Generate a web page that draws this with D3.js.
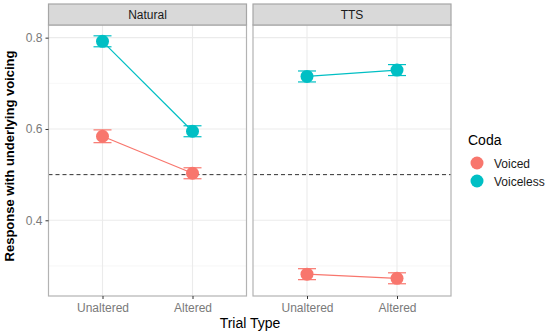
<!DOCTYPE html>
<html><head><meta charset="utf-8">
<script src="https://cdn.jsdelivr.net/npm/d3@7"></script>
<style>body{margin:0;background:#fff;} svg{display:block;font-family:Arial,"Liberation Sans",sans-serif;}</style>
</head><body>
<script>
const facets = ["Natural", "TTS"];
const trialTypes = ["Unaltered", "Altered"];
const codas = ["Voiced", "Voiceless"];
const colors = ["#F8766D", "#00BFC4"];
// mean values [facet][coda][trial]
const naturalVoiced = [0.584, 0.503];
const naturalVoiceless = [0.792, 0.595];
const ttsVoiced = [0.282, 0.273];
const ttsVoiceless = [0.715, 0.729];
// standard errors
const naturalVoicedSE = [0.014, 0.012];
const naturalVoicelessSE = [0.012, 0.012];
const ttsVoicedSE = [0.012, 0.012];
const ttsVoicelessSE = [0.012, 0.012];
const yTicks = [0.4, 0.6, 0.8];
const yMinor = [0.3, 0.5, 0.7];
const refLine = 0.5;

const data = [];
[[naturalVoiced, naturalVoicedSE, naturalVoiceless, naturalVoicelessSE],
 [ttsVoiced, ttsVoicedSE, ttsVoiceless, ttsVoicelessSE]].forEach((arr, fi) => {
  [0, 1].forEach(ci => {
    trialTypes.forEach((t, ti) => {
      data.push({facet: facets[fi], coda: codas[ci], trial: t, v: arr[ci*2][ti], se: arr[ci*2+1][ti]});
    });
  });
});

const W = 550, H = 335;
const svg = d3.select("body").append("svg").attr("width", W).attr("height", H);
const panelTop = 25, panelBottom = 296, stripTop = 4;
const panels = [{x0: 48.5, x1: 246.5}, {x0: 253, x1: 451}];
const y = d3.scaleLinear().domain([0.2342, 0.8277]).range([panelBottom, panelTop]);

facets.forEach((f, fi) => {
  const p = panels[fi];
  const x = d3.scalePoint().domain(trialTypes).range([p.x0, p.x1]).padding(0.6);
  const g = svg.append("g");
  // background
  g.append("rect").attr("x", p.x0).attr("y", panelTop).attr("width", p.x1 - p.x0).attr("height", panelBottom - panelTop).attr("fill", "#fff");
  // minor grid
  g.selectAll(".minor").data(yMinor).join("line")
    .attr("x1", p.x0).attr("x2", p.x1).attr("y1", d => y(d)).attr("y2", d => y(d))
    .attr("stroke", "#f2f2f2").attr("stroke-width", 0.6);
  // major grid
  g.selectAll(".major").data(yTicks).join("line")
    .attr("x1", p.x0).attr("x2", p.x1).attr("y1", d => y(d)).attr("y2", d => y(d))
    .attr("stroke", "#ebebeb").attr("stroke-width", 1.1);
  g.selectAll(".vgrid").data(trialTypes).join("line")
    .attr("x1", d => x(d)).attr("x2", d => x(d)).attr("y1", panelTop).attr("y2", panelBottom)
    .attr("stroke", "#ebebeb").attr("stroke-width", 1.1);
  // dashed reference
  g.append("line").attr("x1", p.x0).attr("x2", p.x1).attr("y1", y(refLine)).attr("y2", y(refLine))
    .attr("stroke", "#333").attr("stroke-width", 1).attr("stroke-dasharray", "4,3");
  // series
  codas.forEach((c, ci) => {
    const pts = data.filter(d => d.facet === f && d.coda === c);
    g.append("path").datum(pts)
      .attr("d", d3.line().x(d => x(d.trial)).y(d => y(d.v)))
      .attr("fill", "none").attr("stroke", colors[ci]).attr("stroke-width", 1.2);
    const eb = g.selectAll(null).data(pts).join("g").attr("stroke", colors[ci]).attr("stroke-width", 1.2);
    eb.append("line").attr("x1", d => x(d.trial)).attr("x2", d => x(d.trial)).attr("y1", d => y(d.v - d.se)).attr("y2", d => y(d.v + d.se));
    eb.append("line").attr("x1", d => x(d.trial) - 9).attr("x2", d => x(d.trial) + 9).attr("y1", d => y(d.v - d.se)).attr("y2", d => y(d.v - d.se));
    eb.append("line").attr("x1", d => x(d.trial) - 9).attr("x2", d => x(d.trial) + 9).attr("y1", d => y(d.v + d.se)).attr("y2", d => y(d.v + d.se));
    g.selectAll(null).data(pts).join("circle")
      .attr("cx", d => x(d.trial)).attr("cy", d => y(d.v)).attr("r", 6.5).attr("fill", colors[ci]);
  });
  // border
  g.append("rect").attr("x", p.x0).attr("y", panelTop).attr("width", p.x1 - p.x0).attr("height", panelBottom - panelTop)
    .attr("fill", "none").attr("stroke", "#b3b3b3").attr("stroke-width", 1.2);
  // strip
  g.append("rect").attr("x", p.x0).attr("y", stripTop).attr("width", p.x1 - p.x0).attr("height", panelTop - stripTop)
    .attr("fill", "#d9d9d9").attr("stroke", "#a6a6a6").attr("stroke-width", 1.2);
  g.append("text").attr("x", (p.x0 + p.x1) / 2).attr("y", (stripTop + panelTop) / 2 + 4.5)
    .attr("text-anchor", "middle").attr("font-size", 12).attr("fill", "#1a1a1a").text(f);
  // x axis
  const xa = svg.append("g").attr("transform", `translate(0,${panelBottom})`)
    .call(d3.axisBottom(x).tickSize(3).tickPadding(4));
  xa.select(".domain").remove();
  xa.selectAll("line").attr("stroke", "#333");
  xa.selectAll("text").attr("font-size", 12).attr("fill", "#7a7a7a").attr("font-family", "Arial, Liberation Sans, sans-serif");
});

// y axis
const ya = svg.append("g").attr("transform", `translate(${panels[0].x0},0)`)
  .call(d3.axisLeft(y).tickValues(yTicks).tickFormat(d3.format(".1f")).tickSize(3).tickPadding(3));
ya.select(".domain").remove();
ya.selectAll("line").attr("stroke", "#333");
ya.selectAll("text").attr("font-size", 12).attr("fill", "#7a7a7a").attr("font-family", "Arial, Liberation Sans, sans-serif");

// axis titles
svg.append("text").attr("transform", "translate(14,156) rotate(-90)").attr("text-anchor", "middle")
  .attr("font-size", 13).attr("font-weight", "bold").attr("fill", "#000").text("Response with underlying voicing");
svg.append("text").attr("x", 250).attr("y", 328).attr("text-anchor", "middle")
  .attr("font-size", 14).attr("fill", "#000").text("Trial Type");

// legend
const lg = svg.append("g");
lg.append("text").attr("x", 468).attr("y", 145).attr("font-size", 14).attr("fill", "#000").text("Coda");
codas.forEach((c, i) => {
  lg.append("circle").attr("cx", 477).attr("cy", 163 + i * 18).attr("r", 6.5).attr("fill", colors[i]);
  lg.append("text").attr("x", 494).attr("y", 167.5 + i * 18).attr("font-size", 12).attr("fill", "#1a1a1a").text(c);
});
</script>
</body></html>
